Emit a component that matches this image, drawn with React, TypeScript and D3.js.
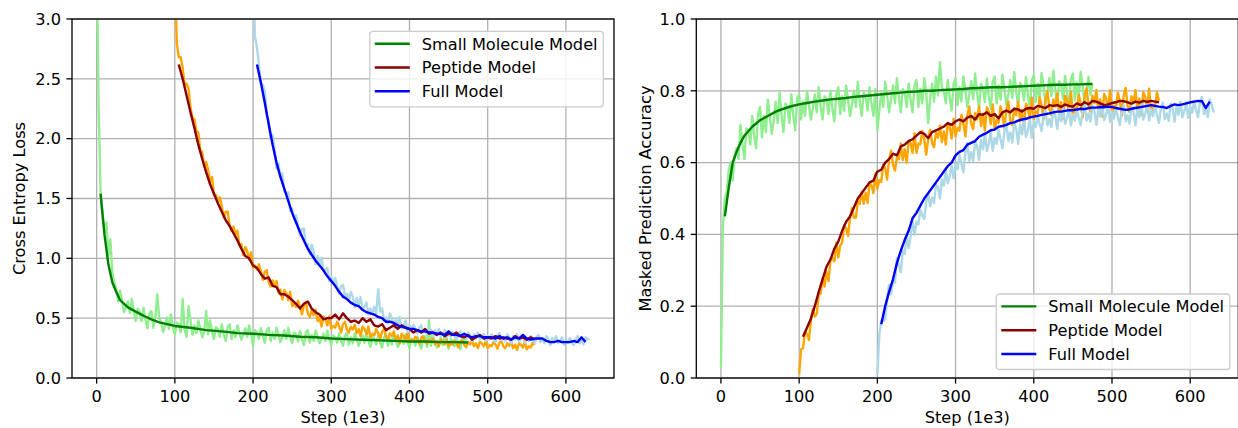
import React from 'react';
import * as d3 from 'd3';

// raw curves are logged every 2.5 (1e3 steps), smoothed ones every 5 unless steps are listed
const RAW_INTERVAL = 2.5;
const SMOOTH_INTERVAL = 5;

// ---- Cross entropy loss ----
const smallLossRaw = [
  3.6, 2.3, 1.56, 1.38, 1.22, 1.3, 1.02, 1.16, 0.88, 0.8,
  0.75, 0.64, 0.73, 0.645, 0.55, 0.59, 0.64, 0.545, 0.66, 0.555, 0.475, 0.58, 0.555, 0.475, 0.585, 0.485, 0.415, 0.54, 0.56, 0.42,
  0.505, 0.7, 0.5, 0.47, 0.385, 0.435, 0.505, 0.41, 0.53, 0.43,
  0.36, 0.465, 0.45, 0.38, 0.66, 0.4, 0.345, 0.6, 0.485, 0.36,
  0.44, 0.375, 0.48, 0.415, 0.34, 0.385, 0.56, 0.365, 0.48, 0.39, 0.325, 0.425, 0.41, 0.345, 0.45, 0.365, 0.31, 0.425, 0.45, 0.325,
  0.4, 0.34, 0.44, 0.38, 0.32, 0.36, 0.415, 0.345, 0.44, 0.365, 0.27, 0.4, 0.38, 0.325, 0.415, 0.345, 0.295, 0.4, 0.42, 0.31,
  0.38, 0.325, 0.42, 0.365, 0.3, 0.34, 0.4, 0.325, 0.42, 0.345, 0.29, 0.38, 0.365, 0.305, 0.395, 0.325, 0.275, 0.38, 0.4, 0.295,
  0.36, 0.31, 0.395, 0.345, 0.29, 0.325, 0.37, 0.31, 0.395, 0.325, 0.28, 0.355, 0.34, 0.295, 0.37, 0.31, 0.27, 0.355, 0.375, 0.28,
  0.34, 0.29, 0.375, 0.325, 0.27, 0.31, 0.355, 0.295, 0.38, 0.31, 0.26, 0.34, 0.33, 0.28, 0.355, 0.295, 0.255, 0.34, 0.36, 0.27,
  0.33, 0.28, 0.365, 0.315, 0.26, 0.295, 0.345, 0.285, 0.365, 0.3, 0.25, 0.33, 0.315, 0.27, 0.345, 0.29, 0.245, 0.335, 0.35, 0.26,
  0.48, 0.27, 0.355, 0.305, 0.255, 0.29, 0.335, 0.275, 0.36, 0.295, 0.245, 0.325, 0.31, 0.265, 0.34, 0.28, 0.24, 0.33, 0.345, 0.255,
  0.3,
];
const smallLossSmoothSteps = [5, 10, 15, 20, 25, 30, 40, 50, 60, 70, 80, 90, 100, 120, 140, 160, 180, 200, 220, 240, 260, 280, 300, 320, 340, 360, 380, 400, 420, 440, 460, 475];
const smallLossSmooth = [1.54, 1.2, 0.95, 0.8, 0.72, 0.65, 0.59, 0.555, 0.52, 0.49, 0.465, 0.45, 0.435, 0.42, 0.4, 0.39, 0.375, 0.37, 0.36, 0.355, 0.345, 0.34, 0.33, 0.325, 0.32, 0.315, 0.31, 0.305, 0.305, 0.3, 0.3, 0.297];

const peptideLossRaw = [
  3.4, 2.8, 2.68, 2.68, 2.59, 2.45, 2.46, 2.415, 2.26, 2.17,
  2.165, 2.065, 2.05, 1.905, 1.89, 1.765, 1.805, 1.74, 1.64, 1.68, 1.53, 1.53, 1.475, 1.51, 1.435, 1.34, 1.39, 1.39, 1.28, 1.23,
  1.265, 1.205, 1.23, 1.11, 1.12, 1.025, 1.095, 1.06, 0.99, 1.05, 0.92, 0.94, 0.905, 0.95, 0.895, 0.82, 0.89, 0.9, 0.8, 0.765,
  0.815, 0.77, 0.81, 0.71, 0.74, 0.655, 0.735, 0.71, 0.65, 0.72, 0.6, 0.62, 0.595, 0.645, 0.595, 0.53, 0.61, 0.63, 0.54, 0.51,
  0.565, 0.525, 0.57, 0.475, 0.51, 0.43, 0.515, 0.49, 0.44, 0.515, 0.41, 0.435, 0.42, 0.47, 0.435, 0.38, 0.45, 0.47, 0.405, 0.38,
  0.43, 0.405, 0.445, 0.375, 0.41, 0.35, 0.43, 0.41, 0.365, 0.43, 0.34, 0.37, 0.355, 0.41, 0.375, 0.325, 0.39, 0.41, 0.345, 0.32,
  0.375, 0.35, 0.39, 0.315, 0.355, 0.29, 0.37, 0.35, 0.31, 0.38, 0.3, 0.32, 0.31, 0.345, 0.325, 0.285, 0.335, 0.35, 0.3, 0.285,
  0.32, 0.3, 0.335, 0.28, 0.31, 0.265, 0.32, 0.31, 0.28, 0.33, 0.265, 0.285, 0.28, 0.315, 0.295, 0.255, 0.305, 0.32, 0.275, 0.26,
  0.3, 0.28, 0.315, 0.265, 0.29, 0.25, 0.3, 0.29, 0.265, 0.31, 0.25, 0.275, 0.265, 0.3, 0.28, 0.245, 0.295, 0.31, 0.265, 0.25,
  0.29, 0.27, 0.3, 0.25, 0.28, 0.235, 0.29, 0.28, 0.255, 0.3, 0.24, 0.265, 0.255, 0.295, 0.275,
];
const peptideLossSmooth = [
  2.62, 2.5, 2.36, 2.22, 2.09, 1.95, 1.83, 1.72, 1.62, 1.54,
  1.46, 1.39, 1.32, 1.27, 1.21, 1.15, 1.08, 1.02, 1.0, 0.94,
  0.92, 0.87, 0.83, 0.84, 0.77, 0.76, 0.7, 0.7, 0.68, 0.65,
  0.62, 0.58, 0.62, 0.64, 0.58, 0.55, 0.53, 0.49, 0.5, 0.5,
  0.53, 0.49, 0.54, 0.5, 0.47, 0.48, 0.46, 0.5, 0.47, 0.49,
  0.44, 0.43, 0.45, 0.4, 0.42, 0.44, 0.41, 0.44, 0.42, 0.41,
  0.38, 0.4, 0.38, 0.41, 0.37, 0.38, 0.36, 0.38, 0.35, 0.37,
  0.36, 0.38, 0.35, 0.34, 0.36, 0.32, 0.34, 0.36, 0.33, 0.34,
  0.33, 0.35, 0.33, 0.34, 0.33, 0.32, 0.35, 0.33, 0.34, 0.32,
  0.34, 0.32,
];

const fullLossRaw = [
  3.4, 2.85, 2.76, 2.62, 2.46, 2.45, 2.4, 2.195, 2.15, 2.0,
  2.03, 1.91, 1.75, 1.795, 1.68, 1.71, 1.56, 1.545, 1.55, 1.395, 1.415, 1.33, 1.36, 1.27, 1.19, 1.245, 1.25, 1.11, 1.12, 1.035,
  1.115, 1.055, 0.95, 1.02, 0.95, 1.005, 0.895, 0.9, 0.92, 0.81, 0.85, 0.795, 0.835, 0.77, 0.705, 0.765, 0.78, 0.68, 0.705, 0.645,
  0.72, 0.68, 0.59, 0.67, 0.61, 0.675, 0.575, 0.595, 0.63, 0.53, 0.58, 0.54, 0.595, 0.54, 0.74, 0.555, 0.58, 0.48, 0.505, 0.455,
  0.54, 0.5, 0.42, 0.5, 0.44, 0.51, 0.415, 0.44, 0.48, 0.385, 0.44, 0.41, 0.445, 0.405, 0.375, 0.42, 0.44, 0.38, 0.405, 0.365,
  0.42, 0.4, 0.345, 0.4, 0.37, 0.41, 0.35, 0.37, 0.4, 0.335, 0.375, 0.345, 0.385, 0.35, 0.32, 0.37, 0.39, 0.33, 0.355, 0.32,
  0.38, 0.36, 0.305, 0.365, 0.33, 0.38, 0.32, 0.34, 0.37, 0.31, 0.35, 0.325, 0.365, 0.33, 0.3, 0.355, 0.375, 0.315, 0.34, 0.305,
  0.365, 0.345, 0.29, 0.35, 0.32, 0.365, 0.305, 0.325, 0.355, 0.295, 0.335, 0.31, 0.35, 0.32, 0.29, 0.34, 0.36, 0.3, 0.325, 0.29,
  0.35, 0.33, 0.275, 0.335, 0.3, 0.35, 0.29, 0.31, 0.34, 0.28, 0.32, 0.295, 0.335, 0.3, 0.275, 0.325, 0.35, 0.29, 0.315, 0.28,
  0.34, 0.32, 0.33,
];
const fullLossSmooth = [
  2.62, 2.47, 2.3, 2.12, 1.95, 1.8, 1.68, 1.58, 1.48, 1.38,
  1.3, 1.22, 1.15, 1.08, 1.03, 0.98, 0.94, 0.9, 0.85, 0.81,
  0.77, 0.72, 0.68, 0.66, 0.63, 0.61, 0.6, 0.57, 0.55, 0.54,
  0.53, 0.51, 0.5, 0.47, 0.47, 0.46, 0.44, 0.43, 0.42, 0.41,
  0.41, 0.4, 0.39, 0.39, 0.38, 0.38, 0.37, 0.37, 0.36, 0.39,
  0.36, 0.36, 0.35, 0.37, 0.35, 0.34, 0.35, 0.35, 0.34, 0.34,
  0.34, 0.33, 0.35, 0.33, 0.34, 0.32, 0.34, 0.33, 0.36, 0.33,
  0.32, 0.33, 0.33, 0.33, 0.31, 0.3, 0.3, 0.31, 0.3, 0.3,
  0.3, 0.31, 0.3, 0.34, 0.3,
];

// ---- Masked prediction accuracy ----
const smallAccRaw = [
  0.03, 0.42, 0.5, 0.52, 0.58, 0.6, 0.55, 0.62, 0.64,
  0.61, 0.705, 0.65, 0.61, 0.695, 0.69, 0.65, 0.73, 0.675, 0.64, 0.735, 0.755, 0.67, 0.73, 0.685, 0.775, 0.73, 0.68, 0.715, 0.77,
  0.71, 0.795, 0.73, 0.685, 0.765, 0.755, 0.71, 0.79, 0.73, 0.69, 0.78, 0.79, 0.72, 0.77, 0.73, 0.8, 0.762, 0.72, 0.75, 0.79,
  0.74, 0.81, 0.757, 0.72, 0.785, 0.775, 0.735, 0.8, 0.75, 0.715, 0.79, 0.81, 0.735, 0.785, 0.745, 0.815, 0.775, 0.73, 0.76, 0.8,
  0.755, 0.825, 0.77, 0.73, 0.795, 0.785, 0.745, 0.81, 0.765, 0.73, 0.805, 0.69, 0.745, 0.795, 0.755, 0.825, 0.787, 0.74, 0.775, 0.815,
  0.765, 0.835, 0.78, 0.74, 0.805, 0.795, 0.755, 0.82, 0.775, 0.74, 0.815, 0.83, 0.755, 0.805, 0.765, 0.835, 0.795, 0.71, 0.78, 0.82,
  0.77, 0.84, 0.787, 0.88, 0.81, 0.8, 0.765, 0.83, 0.78, 0.745, 0.82, 0.835, 0.76, 0.81, 0.77, 0.84, 0.8, 0.755, 0.787, 0.827,
  0.777, 0.848, 0.793, 0.753, 0.819, 0.809, 0.769, 0.834, 0.784, 0.75, 0.825, 0.84, 0.765, 0.815, 0.775, 0.845, 0.805, 0.76, 0.79, 0.83,
  0.78, 0.852, 0.797, 0.757, 0.822, 0.813, 0.773, 0.838, 0.788, 0.754, 0.829, 0.844, 0.769, 0.82, 0.78, 0.85, 0.81, 0.765, 0.796, 0.836,
  0.786, 0.856, 0.801, 0.762, 0.827, 0.817, 0.777, 0.842, 0.792, 0.757, 0.833, 0.848, 0.773, 0.823, 0.783, 0.853, 0.813, 0.768, 0.799, 0.839,
  0.789, 0.82,
];
const smallAccSmoothSteps = [5, 10, 15, 20, 25, 30, 40, 50, 60, 70, 80, 90, 100, 110, 120, 130, 140, 150, 160, 170, 180, 190, 200, 210, 220, 230, 240, 250, 260, 270, 280, 290, 300, 310, 320, 330, 340, 350, 360, 370, 380, 390, 400, 410, 420, 430, 440, 450, 460, 470, 475];
const smallAccSmooth = [0.45, 0.53, 0.6, 0.63, 0.655, 0.675, 0.7, 0.718, 0.73, 0.742, 0.75, 0.757, 0.762, 0.766, 0.77, 0.773, 0.776, 0.778, 0.78, 0.783, 0.785, 0.787, 0.789, 0.791, 0.793, 0.795, 0.797, 0.798, 0.8, 0.8, 0.802, 0.803, 0.804, 0.805, 0.807, 0.808, 0.809, 0.81, 0.81, 0.811, 0.812, 0.813, 0.814, 0.815, 0.816, 0.817, 0.817, 0.818, 0.818, 0.819, 0.819];

const peptideAccRaw = [
  0.01, 0.08, 0.083, 0.129, 0.123, 0.106, 0.16, 0.193, 0.171, 0.179,
  0.232, 0.235, 0.279, 0.255, 0.296, 0.27, 0.328, 0.334, 0.325, 0.377, 0.336, 0.369, 0.378, 0.424, 0.418, 0.396, 0.445, 0.473, 0.446, 0.447,
  0.492, 0.485, 0.519, 0.485, 0.516, 0.488, 0.543, 0.537, 0.515, 0.57, 0.527, 0.551, 0.546, 0.595, 0.584, 0.553, 0.608, 0.633, 0.594, 0.578,
  0.614, 0.609, 0.653, 0.607, 0.637, 0.6, 0.661, 0.654, 0.627, 0.682, 0.627, 0.653, 0.651, 0.688, 0.664, 0.622, 0.666, 0.691, 0.654, 0.643,
  0.684, 0.669, 0.703, 0.657, 0.687, 0.65, 0.711, 0.699, 0.667, 0.722, 0.673, 0.697, 0.689, 0.733, 0.709, 0.673, 0.732, 0.756, 0.708, 0.693,
  0.738, 0.72, 0.757, 0.702, 0.736, 0.689, 0.754, 0.741, 0.707, 0.762, 0.693, 0.718, 0.711, 0.757, 0.734, 0.694, 0.75, 0.77, 0.718, 0.704,
  0.75, 0.732, 0.77, 0.715, 0.747, 0.7, 0.764, 0.752, 0.72, 0.781, 0.718, 0.743, 0.736, 0.782, 0.759, 0.72, 0.777, 0.799, 0.748, 0.732,
  0.776, 0.757, 0.793, 0.737, 0.769, 0.722, 0.786, 0.774, 0.741, 0.797, 0.729, 0.753, 0.744, 0.788, 0.764, 0.726, 0.785, 0.807, 0.758, 0.742,
  0.786, 0.766, 0.802, 0.745, 0.776, 0.728, 0.791, 0.779, 0.746, 0.802, 0.734, 0.758, 0.751, 0.795, 0.771, 0.731, 0.788, 0.808, 0.756, 0.741,
  0.785, 0.766, 0.802, 0.747, 0.779, 0.732, 0.796, 0.783, 0.75, 0.806, 0.738, 0.761, 0.753, 0.796, 0.772,
];
const peptideAccSmooth = [
  0.115, 0.14, 0.165, 0.2, 0.24, 0.275, 0.31, 0.33, 0.36, 0.38,
  0.41, 0.435, 0.45, 0.475, 0.5, 0.515, 0.53, 0.545, 0.55, 0.575,
  0.58, 0.6, 0.61, 0.625, 0.62, 0.645, 0.65, 0.66, 0.665, 0.675,
  0.685, 0.68, 0.668, 0.685, 0.69, 0.695, 0.7, 0.71, 0.705, 0.715,
  0.72, 0.715, 0.725, 0.73, 0.72, 0.735, 0.733, 0.74, 0.73, 0.735,
  0.723, 0.74, 0.745, 0.74, 0.75, 0.748, 0.742, 0.75, 0.752, 0.75,
  0.758, 0.755, 0.752, 0.76, 0.758, 0.76, 0.755, 0.762, 0.758, 0.756,
  0.765, 0.76, 0.768, 0.762, 0.772, 0.77, 0.765, 0.76, 0.762, 0.766,
  0.768, 0.772, 0.771, 0.768, 0.764, 0.77, 0.767, 0.772, 0.769, 0.772,
  0.77, 0.768,
];

const fullAccRaw = [
  0.01, 0.12, 0.158, 0.159, 0.163, 0.222, 0.26, 0.233, 0.268, 0.266,
  0.334, 0.316, 0.295, 0.355, 0.346, 0.395, 0.362, 0.395, 0.436, 0.399, 0.436, 0.428, 0.468, 0.454, 0.443, 0.49, 0.515, 0.478, 0.503, 0.487,
  0.539, 0.532, 0.5, 0.553, 0.536, 0.58, 0.542, 0.562, 0.591, 0.556, 0.597, 0.581, 0.621, 0.596, 0.573, 0.627, 0.655, 0.605, 0.629, 0.603,
  0.658, 0.647, 0.607, 0.663, 0.637, 0.682, 0.632, 0.653, 0.685, 0.633, 0.669, 0.652, 0.691, 0.664, 0.64, 0.687, 0.71, 0.66, 0.684, 0.656,
  0.71, 0.696, 0.652, 0.706, 0.679, 0.723, 0.671, 0.69, 0.721, 0.669, 0.716, 0.699, 0.73, 0.707, 0.688, 0.728, 0.747, 0.703, 0.722, 0.699,
  0.746, 0.732, 0.694, 0.739, 0.715, 0.752, 0.708, 0.724, 0.749, 0.704, 0.734, 0.717, 0.748, 0.725, 0.705, 0.744, 0.761, 0.717, 0.737, 0.714,
  0.759, 0.744, 0.705, 0.751, 0.728, 0.764, 0.718, 0.734, 0.759, 0.714, 0.743, 0.723, 0.752, 0.727, 0.705, 0.743, 0.76, 0.715, 0.732, 0.709,
  0.756, 0.742, 0.704, 0.75, 0.727, 0.764, 0.72, 0.736, 0.761, 0.717, 0.748, 0.729, 0.758, 0.733, 0.711, 0.75, 0.767, 0.721, 0.737, 0.716,
  0.764, 0.751, 0.714, 0.758, 0.733, 0.77, 0.726, 0.743, 0.768, 0.725, 0.756, 0.739, 0.77, 0.747, 0.727, 0.766, 0.783, 0.735, 0.748, 0.727,
  0.776, 0.761, 0.74,
];
const fullAccSmooth = [
  0.15, 0.2, 0.24, 0.275, 0.32, 0.355, 0.385, 0.41, 0.445, 0.46,
  0.48, 0.5, 0.515, 0.53, 0.545, 0.56, 0.575, 0.59, 0.6, 0.62,
  0.63, 0.635, 0.65, 0.655, 0.66, 0.672, 0.678, 0.683, 0.69, 0.692,
  0.7, 0.702, 0.705, 0.71, 0.712, 0.717, 0.72, 0.722, 0.726, 0.728,
  0.73, 0.733, 0.735, 0.737, 0.74, 0.742, 0.742, 0.744, 0.746, 0.746,
  0.748, 0.75, 0.749, 0.752, 0.753, 0.753, 0.755, 0.754, 0.756, 0.755,
  0.752, 0.75, 0.748, 0.747, 0.75, 0.752, 0.754, 0.756, 0.758, 0.76,
  0.758, 0.756, 0.755, 0.752, 0.758, 0.762, 0.76, 0.762, 0.765, 0.768,
  0.77, 0.772, 0.771, 0.752, 0.77,
];

const modelNames = ['Small Molecule Model', 'Peptide Model', 'Full Model'];
const rawColors = ['#90ee90', '#ffa500', '#add8e6'];
const smoothColors = ['#008000', '#8b0000', '#0000ff'];
const xTicks = [0, 100, 200, 300, 400, 500, 600];
const lossTicks = [0, 0.5, 1, 1.5, 2, 2.5, 3];
const accTicks = [0, 0.2, 0.4, 0.6, 0.8, 1];

type Series = { steps: number[]; values: number[]; color: string };

const stepsOf = (start: number, interval: number, values: number[]) => values.map((_, i) => start + i * interval);
const raw = (start: number, values: number[], color: string): Series => ({ steps: stepsOf(start, RAW_INTERVAL, values), values, color });
const smooth = (start: number, values: number[], color: string): Series => ({ steps: stepsOf(start, SMOOTH_INTERVAL, values), values, color });

const lossRaw = [raw(0, smallLossRaw, rawColors[0]), raw(100, peptideLossRaw, rawColors[1]), raw(200, fullLossRaw, rawColors[2])];
const lossSmooth = [
  { steps: smallLossSmoothSteps, values: smallLossSmooth, color: smoothColors[0] },
  smooth(105, peptideLossSmooth, smoothColors[1]),
  smooth(205, fullLossSmooth, smoothColors[2]),
];
const accRaw = [raw(0, smallAccRaw, rawColors[0]), raw(100, peptideAccRaw, rawColors[1]), raw(200, fullAccRaw, rawColors[2])];
const accSmooth = [
  { steps: smallAccSmoothSteps, values: smallAccSmooth, color: smoothColors[0] },
  smooth(105, peptideAccSmooth, smoothColors[1]),
  smooth(205, fullAccSmooth, smoothColors[2]),
];

const FONT = 'DejaVu Sans, sans-serif';
const FS = 16.2;
const LW = 2.4;
const THIN = 1.3;

type PanelProps = {
  id: string;
  left: number;
  yMax: number;
  yTicks: number[];
  yLabel: string;
  yLabelX: number;
  raw: Series[];
  smooth: Series[];
  legend: { x: number; y: number };
};

const Panel = ({ id, left, yMax, yTicks, yLabel, yLabelX, raw, smooth, legend }: PanelProps) => {
  const top = 19;
  const bottom = 378;
  const width = 542;
  const x = d3.scaleLinear().domain([-31.5, 661.5]).range([left, left + width]);
  const y = d3.scaleLinear().domain([0, yMax]).range([bottom, top]);
  const line = (s: Series) =>
    d3
      .line<number>()
      .x((_, i) => x(s.steps[i]))
      .y((v) => y(v))(s.values) || '';
  const fmt = d3.format('.1f');

  return (
    <g fontFamily={FONT} fontSize={FS}>
      <defs>
        <clipPath id={id}>
          <rect x={left} y={top} width={width} height={bottom - top} />
        </clipPath>
      </defs>
      {xTicks.map((t) => (
        <line key={'gx' + t} x1={x(t)} x2={x(t)} y1={top} y2={bottom} stroke="#b0b0b0" strokeWidth={THIN} />
      ))}
      {yTicks.map((t) => (
        <line key={'gy' + t} x1={left} x2={left + width} y1={y(t)} y2={y(t)} stroke="#b0b0b0" strokeWidth={THIN} />
      ))}
      <g clipPath={`url(#${id})`} fill="none" strokeWidth={LW} strokeLinejoin="round">
        {raw.map((s, i) => (
          <path key={'r' + i} d={line(s)} stroke={s.color} />
        ))}
        {smooth.map((s, i) => (
          <path key={'s' + i} d={line(s)} stroke={s.color} />
        ))}
      </g>
      <rect x={left} y={top} width={width} height={bottom - top} fill="none" stroke="#000" strokeWidth={THIN} />
      {xTicks.map((t) => (
        <g key={'tx' + t}>
          <line x1={x(t)} x2={x(t)} y1={bottom} y2={bottom + 5.6} stroke="#000" strokeWidth={THIN} />
          <text x={x(t)} y={bottom + 24} textAnchor="middle">{t}</text>
        </g>
      ))}
      {yTicks.map((t) => (
        <g key={'ty' + t}>
          <line x1={left - 5.6} x2={left} y1={y(t)} y2={y(t)} stroke="#000" strokeWidth={THIN} />
          <text x={left - 11} y={y(t)} dy="0.36em" textAnchor="end">{fmt(t)}</text>
        </g>
      ))}
      <text x={left + width / 2} y={423} textAnchor="middle">Step (1e3)</text>
      <text transform={`translate(${yLabelX},${(top + bottom) / 2}) rotate(-90)`} textAnchor="middle">{yLabel}</text>
      <g transform={`translate(${legend.x},${legend.y})`}>
        <rect x={0} y={0} width={233.5} height={75.5} rx={3} fill="#fff" fillOpacity={0.8} stroke="#cccccc" strokeWidth={THIN} />
        {modelNames.map((name, i) => (
          <g key={name} transform={`translate(0,${12.4 + i * 23.8})`}>
            <line x1={5} x2={40} y1={0} y2={0} stroke={smoothColors[i]} strokeWidth={LW} />
            <text x={52} y={0} dy="0.36em">{name}</text>
          </g>
        ))}
      </g>
    </g>
  );
};

const App = () => (
  <svg width={1238} height={428} style={{ position: 'absolute', left: 0, top: 0, background: '#fff' }}>
    <Panel
      id="clipLoss"
      left={72}
      yMax={3}
      yTicks={lossTicks}
      yLabel="Cross Entropy Loss"
      yLabelX={25}
      raw={lossRaw}
      smooth={lossSmooth}
      legend={{ x: 369.8, y: 31.3 }}
    />
    <Panel
      id="clipAcc"
      left={696.3}
      yMax={1}
      yTicks={accTicks}
      yLabel="Masked Prediction Accuracy"
      yLabelX={650.5}
      raw={accRaw}
      smooth={accSmooth}
      legend={{ x: 996.3, y: 294 }}
    />
  </svg>
);

export default App;
